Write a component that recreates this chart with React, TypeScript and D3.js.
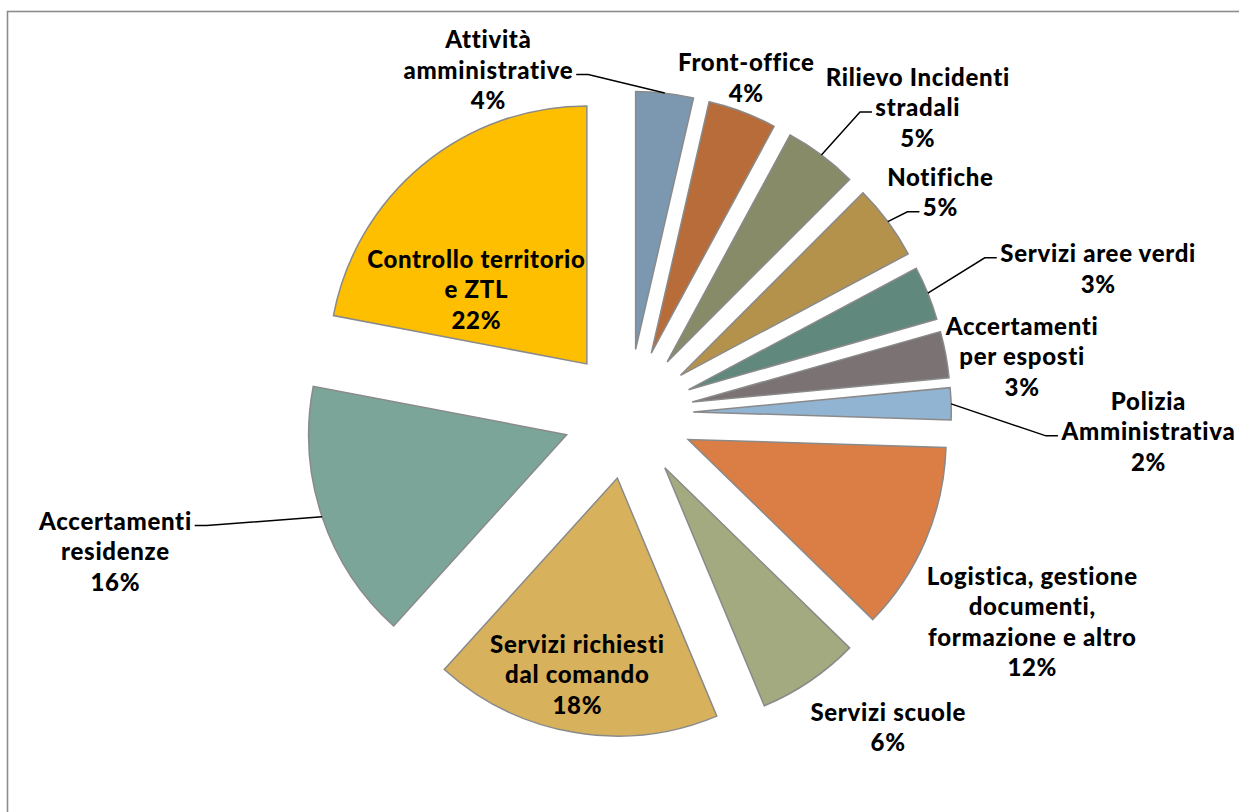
import React, { useMemo } from "react";
import * as d3 from "d3";

// ---------- data ----------
const categories = [
  "Attività amministrative",
  "Front-office",
  "Rilievo Incidenti stradali",
  "Notifiche",
  "Servizi aree verdi",
  "Accertamenti per esposti",
  "Polizia Amministrativa",
  "Logistica, gestione documenti, formazione e altro",
  "Servizi scuole",
  "Servizi richiesti dal comando",
  "Accertamenti residenze",
  "Controllo territorio e ZTL",
];
const labelLines = [
  ["Attività", "amministrative"],
  ["Front-office"],
  ["Rilievo Incidenti", "stradali"],
  ["Notifiche"],
  ["Servizi aree verdi"],
  ["Accertamenti", "per esposti"],
  ["Polizia", "Amministrativa"],
  ["Logistica, gestione", "documenti,", "formazione e altro"],
  ["Servizi scuole"],
  ["Servizi richiesti", "dal comando"],
  ["Accertamenti", "residenze"],
  ["Controllo territorio", "e ZTL"],
];
const shares = [3.6, 4.3, 4.6, 4.7, 3.4, 2.9, 2.0, 11.8, 6.4, 18.0, 16.3, 22.0];
const colors = [
  "#7b98b0", "#b76c3a", "#888b68", "#b4924c", "#60887d", "#7b7273",
  "#92b4d3", "#db7e45", "#a4aa7f", "#d7b15c", "#7ca59a", "#fdbf00",
];

// ---------- layout (not data) ----------
const W = 1239;
const H = 812;
const CX = 628.3;
const CY = 414;
const EXPLODE = 65;
const RADIUS = 258;
const FS = 24;
const FW = 900;
const LS = 0.7;
const LH = 30.5;
const FONT = "Lato, 'Noto Sans', sans-serif";
// label block centre offsets from the outer mid-arc point of each slice
const labelOffsets: [number, number][] = [
  [-176.7, -22.6],
  [3.5, -33.9],
  [96, -47.1],
  [52.2, -29.1],
  [170, -24.2],
  [76, 2.5],
  [197, 28],
  [106.4, 81.6],
  [78, 46.3],
  [3.2, -57.6],
  [-207, 35.3],
  [53.6, 124.6],
];
// leader line: which text line it attaches to and on which side
const leaders: ({ line: number; side: "left" | "right" } | null)[] = [
  { line: 1, side: "right" },
  null,
  { line: 1, side: "left" },
  { line: 1, side: "left" },
  { line: 0, side: "left" },
  null,
  { line: 1, side: "left" },
  null,
  null,
  null,
  { line: 0, side: "right" },
  null,
];

const dir = (a: number): [number, number] => [Math.sin(a), -Math.cos(a)];

export default function App() {
  const measure = useMemo(() => {
    const ctx = document.createElement("canvas").getContext("2d")!;
    ctx.font = `${FW} ${FS}px Lato`;
    return (s: string) => ctx.measureText(s).width + LS * s.length;
  }, []);

  const pie = d3.pie<number>().sort(null).value((d) => d).startAngle(0).endAngle(2 * Math.PI);
  const arcs = pie(shares);
  const arc = d3.arc<d3.PieArcDatum<number>>().innerRadius(0).outerRadius(RADIUS);

  return (
    <svg
      width={W}
      height={H}
      style={{ position: "absolute", left: 0, top: 0, background: "#fff" }}
      fontFamily={FONT}
    >
      <rect x={7.5} y={11.5} width={W + 20} height={H + 20} fill="#fff" stroke="#8c8c8c" strokeWidth={1.6} />
      {arcs.map((a, i) => {
        const mid = (a.startAngle + a.endAngle) / 2;
        const [ux, uy] = dir(mid);
        return (
          <path
            key={categories[i]}
            d={arc(a) || ""}
            transform={`translate(${CX + EXPLODE * ux},${CY + EXPLODE * uy})`}
            fill={colors[i]}
            stroke="#8a8a8a"
            strokeWidth={1.5}
          />
        );
      })}
      {arcs.map((a, i) => {
        const mid = (a.startAngle + a.endAngle) / 2;
        const [ux, uy] = dir(mid);
        const ox = CX + (EXPLODE + RADIUS) * ux;
        const oy = CY + (EXPLODE + RADIUS) * uy;
        const lx = ox + labelOffsets[i][0];
        const ly = oy + labelOffsets[i][1];
        const lines = [...labelLines[i], `${Math.round(shares[i])}%`];
        const n = lines.length;
        const lineY = (k: number) => ly + (k - (n - 1) / 2) * LH;
        const ld = leaders[i];
        let leader: string | null = null;
        if (ld) {
          const w = measure(lines[ld.line]);
          const ty = lineY(ld.line) + 4;
          const sgn = ld.side === "right" ? 1 : -1;
          const x0 = lx + sgn * (w / 2 + 3);
          const x1 = x0 + sgn * 12;
          leader = d3.line()([
            [x0, ty],
            [x1, ty],
            [ox, oy],
          ]);
        }
        return (
          <g key={"lab" + i}>
            {leader && <path d={leader} fill="none" stroke="#000" strokeWidth={1.5} />}
            <text textAnchor="middle" fontSize={FS} fontWeight={FW} letterSpacing={LS} fill="#000">
              {lines.map((t, k) => (
                <tspan key={k} x={lx + LS / 2} y={lineY(k) + FS * 0.35}>
                  {t}
                </tspan>
              ))}
            </text>
          </g>
        );
      })}
    </svg>
  );
}
